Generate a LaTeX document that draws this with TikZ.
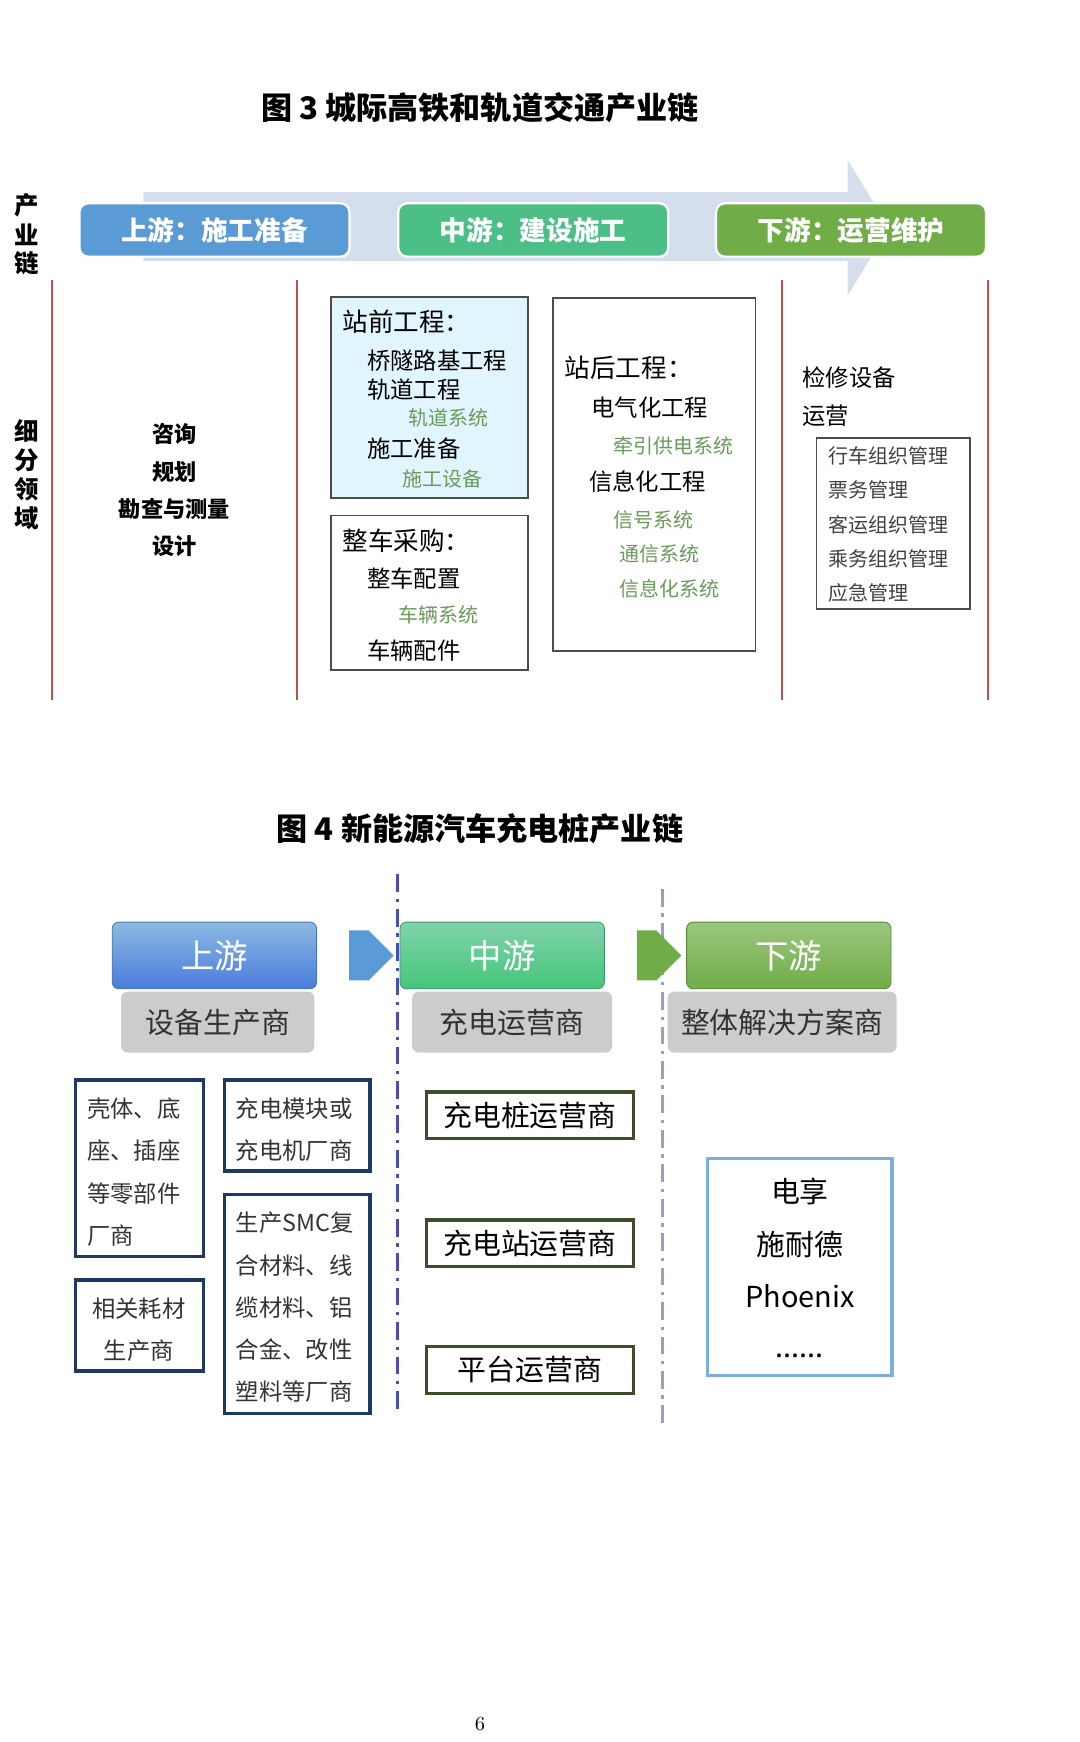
\documentclass[tikz,border=0pt]{standalone}
\usepackage{fontspec}
\newfontfamily\cjk{Noto Sans CJK SC}
\usetikzlibrary{shapes.arrows}
\definecolor{redl}{HTML}{C0504D}
\definecolor{gtxt}{HTML}{6A9A5A}
\definecolor{navy}{HTML}{1F3864}
\definecolor{olive}{HTML}{3D4F2A}
\definecolor{hblue}{HTML}{5B9BD5}
\definecolor{hteal}{HTML}{4CBF87}
\definecolor{hgreen}{HTML}{70AD47}
\definecolor{bgarrow}{HTML}{D5DEEC}
\tikzset{
 t/.style={font=\cjk\fontsize{#1}{#1}\selectfont, inner sep=0pt},
 tl/.style={t=#1, anchor=west},
 hdr/.style={rounded corners=4pt, draw=white, line width=1pt},
 rl/.style={redl, line width=0.8pt},
 bx/.style={draw=black!70, line width=0.8pt},
 nb/.style={draw=navy, line width=1.5pt},
 ob/.style={draw=olive, line width=1.5pt},
 gb/.style={fill=black!20, rounded corners=3pt},
}
\begin{document}
\begin{tikzpicture}[x=0.5pt,y=-0.5pt]
\useasboundingbox (0,0) rectangle (972,1568);
% ===== Figure 3
\node[font=\cjk\bfseries\fontsize{14}{14}\selectfont, inner sep=0pt] (t3) at (432,97) {图 3 城际高铁和轨道交通产业链};
\foreach \c/\y [count=\i] in {产/185,业/211,链/237} \node[t=11,font=\cjk\bfseries\fontsize{11}{11}\selectfont] (a\i) at (24,\y) {\c};
\foreach \c/\y [count=\i] in {细/388,分/414,领/440,域/466} \node[t=11,font=\cjk\bfseries\fontsize{11}{11}\selectfont] (b\i) at (24,\y) {\c};
\fill[bgarrow] (129,173) -- (763,173) -- (763,144) -- (800,205) -- (763,266) -- (763,235) -- (129,235) -- cycle;
\node[hdr, fill=hblue, minimum width=243*0.5pt, minimum height=48*0.5pt, text=white, font=\cjk\bfseries\fontsize{12}{12}\selectfont] (u3) at (193,207) {上游：施工准备};
\node[hdr, fill=hteal, minimum width=243*0.5pt, minimum height=48*0.5pt, text=white, font=\cjk\bfseries\fontsize{12}{12}\selectfont] (m3) at (480,207) {中游：建设施工};
\node[hdr, fill=hgreen, minimum width=243*0.5pt, minimum height=48*0.5pt, text=white, font=\cjk\bfseries\fontsize{12}{12}\selectfont] (d3) at (766,207) {下游：运营维护};
\foreach \x in {47,267,704,889} \draw[rl] (\x,252) -- (\x,630);
\foreach \s/\y [count=\i] in {咨询/391,规划/425,勘查与测量/458,设计/492}
  \node[t=10,font=\cjk\bfseries\fontsize{10}{10}\selectfont] (l\i) at (157,\y) {\s};
\draw[bx, fill=cyan!12] (298,267) rectangle (475,448);
\draw[bx] (298,464) rectangle (475,603);
\draw[bx] (498,268) rectangle (680,586);
\draw[bx] (735,394) rectangle (873,548);
\node[tl=11.5] (p1) at (308,290) {站前工程：};
\node[tl=10.5] (p2) at (330,325) {桥隧路基工程};
\node[tl=10.5] (p3) at (330,351) {轨道工程};
\node[tl=9, text=gtxt] (p4) at (367,376) {轨道系统};
\node[tl=10.5] (p5) at (330,404) {施工准备};
\node[tl=9, text=gtxt] (p6) at (362,431) {施工设备};
\node[tl=11.5] (q1) at (308,487) {整车采购：};
\node[tl=10.5] (q2) at (330,521) {整车配置};
\node[tl=9, text=gtxt] (q3) at (358,553) {车辆系统};
\node[tl=10.5] (q4) at (330,586) {车辆配件};
\node[tl=11.5] (r1) at (508,331) {站后工程：};
\node[tl=10.5] (r2) at (532,367) {电气化工程};
\node[tl=9, text=gtxt] (r3) at (552,401) {牵引供电系统};
\node[tl=10.5] (r4) at (530,433) {信息化工程};
\node[tl=9, text=gtxt] (r5) at (552,468) {信号系统};
\node[tl=9, text=gtxt] (r6) at (557,499) {通信系统};
\node[tl=9, text=gtxt] (r7) at (557,530) {信息化系统};
\node[tl=10.5] (s1) at (722,340) {检修设备};
\node[tl=10.5] (s2) at (722,374) {运营};
\foreach \s/\y [count=\i] in {行车组织管理/410,票务管理/441,客运组织管理/472,乘务组织管理/503,应急管理/534}
  \node[tl=9, text=black!75] (o\i) at (745,\y) {\s};
% ===== Figure 4
\node[font=\cjk\bfseries\fontsize{14}{14}\selectfont, inner sep=0pt] (t4) at (432,746) {图 4 新能源汽车充电桩产业链};
\draw[blue!60!black!70, line width=1.3pt, dash pattern=on 8pt off 3pt on 1.5pt off 3pt] (358,787) -- (358,1270);
\draw[blue!30!gray!60, line width=1.3pt, dash pattern=on 8pt off 3pt on 1.5pt off 3pt] (596,800) -- (596,1285);
\node[rounded corners=3pt, top color=hblue!70, bottom color=hblue!80!blue, draw=hblue!80!black, minimum width=184*0.5pt, minimum height=60*0.5pt, text=white, font=\cjk\fontsize{15}{15}\selectfont] (u4) at (193,860) {上游};
\node[rounded corners=3pt, top color=hteal!70, bottom color=hteal!90!green, draw=hteal!80!black, minimum width=184*0.5pt, minimum height=60*0.5pt, text=white, font=\cjk\fontsize{15}{15}\selectfont] (m4) at (452,860) {中游};
\node[rounded corners=3pt, top color=hgreen!70, bottom color=hgreen, draw=hgreen!80!black, minimum width=184*0.5pt, minimum height=60*0.5pt, text=white, font=\cjk\fontsize{15}{15}\selectfont] (d4) at (710,860) {下游};
\node[single arrow, fill=hblue, minimum width=45*0.5pt, minimum height=40*0.5pt, single arrow head extend=0pt, inner sep=0pt] (ar1) at (323,860) {};
\node[single arrow, fill=hgreen, minimum width=45*0.5pt, minimum height=40*0.5pt, single arrow head extend=0pt, inner sep=0pt] (ar2) at (582,860) {};
\node[gb, minimum width=174*0.5pt, minimum height=55*0.5pt, font=\cjk\fontsize{13}{13}\selectfont, text=black!80] (g1) at (196,920) {设备生产商};
\node[gb, minimum width=180*0.5pt, minimum height=55*0.5pt, font=\cjk\fontsize{13}{13}\selectfont, text=black!80] (g2) at (461,920) {充电运营商};
\node[gb, minimum width=206*0.5pt, minimum height=55*0.5pt, font=\cjk\fontsize{13}{13}\selectfont, text=black!80] (g3) at (704,920) {整体解决方案商};
\draw[nb] (68,972) rectangle (183,1131);
\draw[nb] (68,1152) rectangle (183,1234);
\draw[nb] (202,972) rectangle (333,1054);
\draw[nb] (202,1075) rectangle (333,1272);
\foreach \s/\y [count=\i] in {壳体、底/998,座、插座/1036,等零部件/1074,厂商/1112}
  \node[tl=10.5, text=black!80] (ba\i) at (78,\y) {\s};
\node[t=10.5, text=black!80] (bb1) at (125,1178) {相关耗材};
\node[t=10.5, text=black!80] (bb2) at (125,1216) {生产商};
\foreach \s/\y [count=\i] in {充电模块或/998,充电机厂商/1036}
  \node[tl=10.5, text=black!80] (bc\i) at (212,\y) {\s};
\foreach \s/\y [count=\i] in {生产SMC复/1101,合材料、线/1139,缆材料、铝/1177,合金、改性/1215,塑料等厂商/1253}
  \node[tl=10.5, text=black!80] (bd\i) at (212,\y) {\s};
\node[ob, minimum width=186*0.5pt, minimum height=42*0.5pt, font=\cjk\fontsize{13}{13}\selectfont] (c1) at (477,1004) {充电桩运营商};
\node[ob, minimum width=186*0.5pt, minimum height=42*0.5pt, font=\cjk\fontsize{13}{13}\selectfont] (c2) at (477,1119) {充电站运营商};
\node[ob, minimum width=186*0.5pt, minimum height=42*0.5pt, font=\cjk\fontsize{13}{13}\selectfont] (c3) at (477,1233) {平台运营商};
\draw[draw=hblue!80, line width=1.5pt] (637,1043) rectangle (803,1238);
\node[t=13] (e1) at (720,1072) {电享};
\node[t=13] (e2) at (720,1120) {施耐德};
\node[t=13] (e3) at (720,1167) {Phoenix};
\node[t=13] (e4) at (720,1220) {......};
\node[inner sep=0pt, font=\fontsize{9}{9}\selectfont] (pg) at (432,1552) {6};
\end{tikzpicture}
\end{document}
